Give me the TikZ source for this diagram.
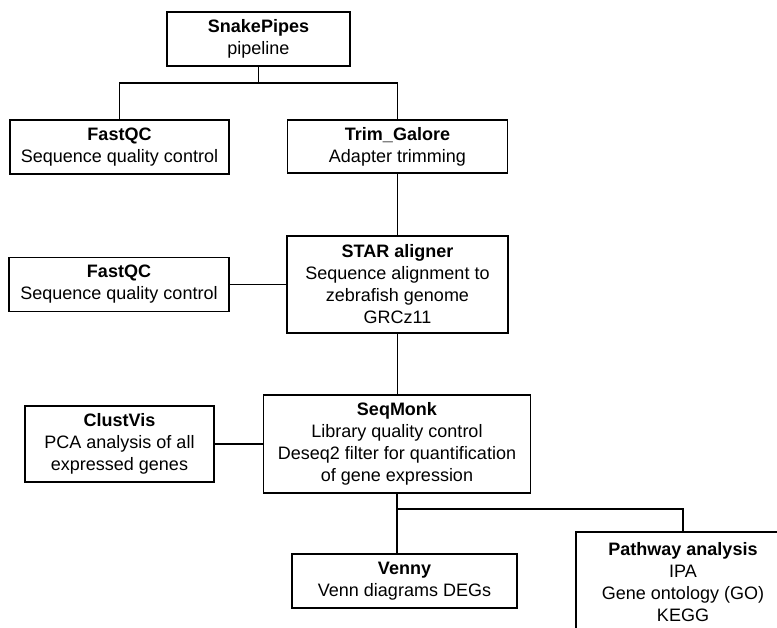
\documentclass[tikz,border=0pt]{standalone}
\usepackage{fontspec}
\setmainfont{Liberation Sans}
\begin{document}
\begin{tikzpicture}[x=1pt,y=-1pt,
  box/.style={draw=black, line width=1.8pt, fill=white, inner sep=0pt, align=center,
    font=\fontsize{18}{22}\selectfont},
  conn/.style={draw=black, line width=1.8pt}]
\useasboundingbox (0,0) rectangle (777,627);
\clip (0,0) rectangle (777,627);
\node[box, minimum width=183pt, minimum height=54pt] (snake) at (258.5,39) {\textbf{SnakePipes}\\pipeline};
\node[box, minimum width=219pt, minimum height=54pt] (fq1) at (119.5,147) {\textbf{FastQC}\\Sequence quality control};
\node[box, minimum width=220pt, minimum height=53pt] (trim) at (397.5,146.5) {\textbf{Trim\_Galore}\\Adapter trimming};
\node[box, minimum width=221pt, minimum height=97pt] (star) at (397.5,284.5) {\textbf{STAR aligner}\\Sequence alignment to\\zebrafish genome\\GRCz11};
\node[box, minimum width=220pt, minimum height=54pt] (fq2) at (119,284.5) {\textbf{FastQC}\\Sequence quality control};
\node[box, minimum width=267pt, minimum height=98pt] (seq) at (397,444) {\textbf{SeqMonk}\\Library quality control\\Deseq2 filter for quantification\\of gene expression};
\node[box, minimum width=189pt, minimum height=76pt] (clust) at (119.5,444) {\textbf{ClustVis}\\PCA analysis of all\\expressed genes};
\node[box, minimum width=225pt, minimum height=54pt] (venny) at (404.5,581) {\textbf{Venny}\\Venn diagrams DEGs};
\node[box, minimum width=214pt, minimum height=100pt] (path) at (683,582) {\textbf{Pathway analysis}\\IPA\\Gene ontology (GO)\\KEGG};
\coordinate (j1) at (258.5,83);
\coordinate (j2) at (397,509);
\draw[conn] (snake.south) -- (j1);
\draw[conn] (fq1.north) |- (j1) -| (trim.north);
\draw[conn] (trim.south) -- (star.north);
\draw[conn] (fq2.east) -- (star.west);
\draw[conn] (star.south) -- (star.south |- seq.north);
\draw[conn] (clust.east) -- (seq.west);
\draw[conn] (seq.south) -- (seq.south |- venny.north);
\draw[conn] (j2) -| (path.north);
\end{tikzpicture}
\end{document}
